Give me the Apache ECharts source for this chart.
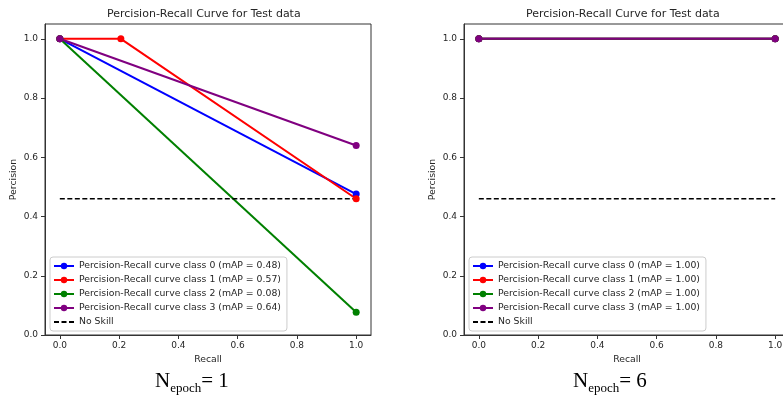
<!DOCTYPE html>
<html>
<head>
<meta charset="utf-8">
<script src="https://cdn.jsdelivr.net/npm/echarts@6/dist/echarts.min.js"></script>
<style>
html,body{margin:0;padding:0;background:#fff;}
#c{width:783px;height:397px;}
</style>
</head>
<body>
<div id="c"></div>
<script>
// ---- Data ----
var chartTitle = 'Percision-Recall Curve for Test data';
var xTicks = [0, 0.2, 0.4, 0.6, 0.8, 1.0];
var yTicks = [0, 0.2, 0.4, 0.6, 0.8, 1.0];
var classColors = ['#0000ff', '#ff0000', '#008000', '#800080'];

// Epoch 1
var e1Names = [
  'Percision-Recall curve class 0 (mAP = 0.48)',
  'Percision-Recall curve class 1 (mAP = 0.57)',
  'Percision-Recall curve class 2 (mAP = 0.08)',
  'Percision-Recall curve class 3 (mAP = 0.64)'
];
var e1Recall = [
  [0, 1],
  [0, 0.206, 1],
  [0, 1],
  [0, 1]
];
var e1Precision = [
  [1, 0.476],
  [1, 1, 0.46],
  [1, 0.077],
  [1, 0.64]
];

// Epoch 6
var e6Names = [
  'Percision-Recall curve class 0 (mAP = 1.00)',
  'Percision-Recall curve class 1 (mAP = 1.00)',
  'Percision-Recall curve class 2 (mAP = 1.00)',
  'Percision-Recall curve class 3 (mAP = 1.00)'
];
var e6Recall = [
  [0, 1],
  [0, 1],
  [0, 1],
  [0, 1]
];
var e6Precision = [
  [1, 1],
  [1, 1],
  [1, 1],
  [1, 1]
];

// No skill baseline
var noSkillName = 'No Skill';
var noSkillRecall = [0, 1];
var noSkillPrecision = [0.46, 0.46];

var subLabels = ['1', '6'];

// ---- Build ----
var FONT = 'DejaVu Sans';
function zip(xs, ys) { return xs.map(function (x, i) { return [x, ys[i]]; }); }

var grids = [
  { left: 45, top: 24, width: 326, height: 311 },
  { left: 464, top: 24, width: 326, height: 311 }
];

function makeX(gi) {
  return {
    type: 'value', gridIndex: gi, min: -0.05, max: 1.05,
    name: 'Recall', nameLocation: 'middle', nameGap: 19,
    nameTextStyle: { fontFamily: FONT, fontSize: 9.3, color: '#262626' },
    axisLine: { show: true, onZero: false, lineStyle: { color: '#333', width: 1 } },
    axisTick: { show: true, length: 4, customValues: xTicks, lineStyle: { color: '#333' } },
    axisLabel: { customValues: xTicks, margin: 6, fontFamily: FONT, fontSize: 9, color: '#262626',
      formatter: function (v) { return v.toFixed(1); } },
    splitLine: { show: false }
  };
}
function makeY(gi) {
  return {
    type: 'value', gridIndex: gi, min: 0, max: 1.05,
    name: 'Percision', nameLocation: 'middle', nameGap: 27,
    nameTextStyle: { fontFamily: FONT, fontSize: 9.3, color: '#262626' },
    axisLine: { show: true, onZero: false, lineStyle: { color: '#333', width: 1 } },
    axisTick: { show: true, length: 4, customValues: yTicks, lineStyle: { color: '#333' } },
    axisLabel: { customValues: yTicks, margin: 7, fontFamily: FONT, fontSize: 9, color: '#262626',
      formatter: function (v) { return v.toFixed(1); } },
    splitLine: { show: false }
  };
}

var series = [];
function addSet(names, recalls, precisions, gi) {
  names.forEach(function (n, i) {
    series.push({
      type: 'line', name: n, xAxisIndex: gi, yAxisIndex: gi,
      data: zip(recalls[i], precisions[i]),
      symbol: 'circle', symbolSize: 7, showSymbol: true,
      lineStyle: { color: classColors[i], width: 2 },
      itemStyle: { color: classColors[i] },
      emphasis: { disabled: true }
    });
  });
  series.push({
    type: 'line', name: noSkillName, xAxisIndex: gi, yAxisIndex: gi,
    data: zip(noSkillRecall, noSkillPrecision),
    symbol: 'none', showSymbol: false,
    lineStyle: { color: '#000', width: 1.5, type: [5, 2.5] },
    itemStyle: { color: '#000' },
    emphasis: { disabled: true }
  });
}
addSet(e1Names, e1Recall, e1Precision, 0);
addSet(e6Names, e6Recall, e6Precision, 1);

function makeLegend(names, left) {
  return {
    orient: 'vertical', left: left, top: 257,
    data: names.concat([{ name: noSkillName, itemStyle: { opacity: 0 } }]),
    itemWidth: 20, itemHeight: 8, itemGap: 4,
    padding: [4, 6, 4, 3],
    backgroundColor: 'rgba(255,255,255,0.8)',
    borderColor: '#cccccc', borderWidth: 1, borderRadius: 3,
    textStyle: { fontFamily: FONT, fontSize: 9.3, color: '#262626', lineHeight: 10 },
    selectedMode: false
  };
}

function subTitle(left, n) {
  return {
    text: '{n|N}{s|epoch}{n|= ' + n + '}',
    left: left, top: 370, padding: 0,
    textStyle: {
      fontWeight: 'normal',
      rich: {
        n: { fontFamily: 'Liberation Serif', fontSize: 21, lineHeight: 22, fontWeight: 'normal', color: '#000' },
        s: { fontFamily: 'Liberation Serif', fontSize: 13, lineHeight: 13, fontWeight: 'normal', padding: [16, 0, 0, 0], color: '#000' }
      }
    }
  };
}

var option = {
  animation: false,
  backgroundColor: '#fff',
  title: [
    { text: chartTitle, left: 107, top: 9, padding: 0,
      textStyle: { fontFamily: FONT, fontSize: 11, fontWeight: 'normal', color: '#262626' } },
    { text: chartTitle, left: 526, top: 9, padding: 0,
      textStyle: { fontFamily: FONT, fontSize: 11, fontWeight: 'normal', color: '#262626' } },
    subTitle(155, subLabels[0]),
    subTitle(573, subLabels[1])
  ],
  grid: grids.map(function (g) {
    return Object.assign({ show: true, borderColor: '#333', borderWidth: 1, backgroundColor: 'transparent',
      containLabel: false, outerBoundsMode: 'none' }, g);
  }),
  xAxis: [makeX(0), makeX(1)],
  yAxis: [makeY(0), makeY(1)],
  legend: [makeLegend(e1Names, 50), makeLegend(e6Names, 469)],
  tooltip: { show: false },
  series: series
};

var chart = echarts.init(document.getElementById('c'), null, { renderer: 'canvas' });
chart.setOption(option);
</script>
</body>
</html>
